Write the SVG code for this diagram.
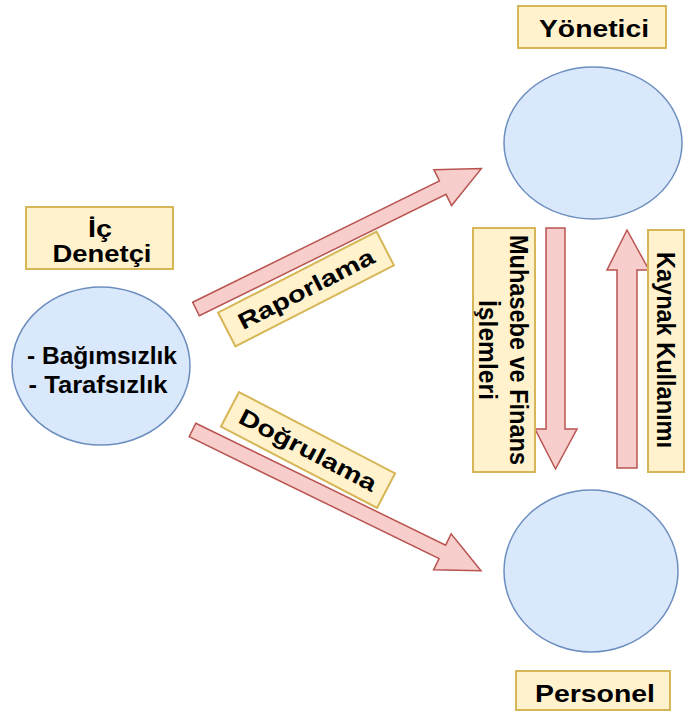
<svg xmlns="http://www.w3.org/2000/svg" width="686" height="712" viewBox="0 0 686 712">
<style>
.lbl{fill:#fff2cc;stroke:#d6b656;stroke-width:2}
.node{fill:#dae8fc;stroke:#6c8ebf;stroke-width:1.5}
.arr{fill:#f8cecc;stroke:#b85450;stroke-width:1.5;stroke-linejoin:miter}
text{font-family:"Liberation Sans",Arial,sans-serif;font-weight:bold;font-size:23px;fill:#000;text-anchor:middle}
.vt{font-size:25px}
</style>
<rect width="686" height="712" fill="#ffffff"/>
<g id="connectors">
<g id="raporlama">
<polygon class="arr" transform="translate(196,309) rotate(-26.2)" points="0,-7.5 275,-7.5 275,-20 318,0 275,20 275,7.5 0,7.5"/>
</g>
<g id="dogrulama">
<polygon class="arr" transform="translate(192.5,430) rotate(26)" points="0,-7.5 278,-7.5 278,-20 321,0 278,20 278,7.5 0,7.5"/>
</g>
<g id="muhasebe">
<polygon class="arr" points="546,228 565,228 565,429 577,429 555.5,469 535,429 546,429"/>
</g>
<g id="kaynak">
<polygon class="arr" points="617,468 637,468 637,270 649,270 627,230 607,270 617,270"/>
</g>
</g>
<g id="ic-denetci">
<rect class="lbl" x="26" y="207" width="147" height="62"/>
<text x="100" y="237" textLength="24" lengthAdjust="spacingAndGlyphs">İç</text>
<text x="102" y="262" textLength="99" lengthAdjust="spacingAndGlyphs">Denetçi</text>
<ellipse class="node" cx="101" cy="366" rx="89" ry="79"/>
<text x="102" y="364" textLength="150" lengthAdjust="spacingAndGlyphs">- Bağımsızlık</text>
<text x="98" y="393" textLength="139" lengthAdjust="spacingAndGlyphs">- Tarafsızlık</text>
</g>
<g id="yonetici">
<rect class="lbl" x="518" y="6" width="148" height="42"/>
<text x="594" y="37" textLength="110" lengthAdjust="spacingAndGlyphs">Yönetici</text>
<ellipse class="node" cx="593" cy="143" rx="89" ry="76"/>
</g>
<g id="personel">
<ellipse class="node" cx="591" cy="571" rx="87" ry="81"/>
<rect class="lbl" x="516" y="671" width="154" height="39"/>
<text x="595" y="702" textLength="120" lengthAdjust="spacingAndGlyphs">Personel</text>
</g>
<g id="label-raporlama">
<g transform="translate(306,289) rotate(-27.1)">
<rect class="lbl" x="-89" y="-19" width="178" height="38"/>
<text x="0" y="8" textLength="150" lengthAdjust="spacingAndGlyphs">Raporlama</text>
</g>
</g>
<g id="label-dogrulama">
<g transform="translate(308,450) rotate(27.5)">
<rect class="lbl" x="-88" y="-19.5" width="176" height="39"/>
<text x="0" y="8" textLength="152" lengthAdjust="spacingAndGlyphs">Doğrulama</text>
</g>
</g>
<g id="label-muhasebe">
<rect class="lbl" x="473" y="228" width="62" height="244"/>
<text class="vt" transform="translate(510,350) rotate(90)" x="0" y="0" textLength="230" lengthAdjust="spacingAndGlyphs">Muhasebe ve Finans</text>
<text class="vt" transform="translate(479,350) rotate(90)" x="0" y="0" textLength="100" lengthAdjust="spacingAndGlyphs">İşlemleri</text>
</g>
<g id="label-kaynak">
<rect class="lbl" x="648" y="230" width="36" height="242"/>
<text class="vt" transform="translate(657,350) rotate(90)" x="0" y="0" textLength="196" lengthAdjust="spacingAndGlyphs">Kaynak Kullanımı</text>
</g>
</svg>
